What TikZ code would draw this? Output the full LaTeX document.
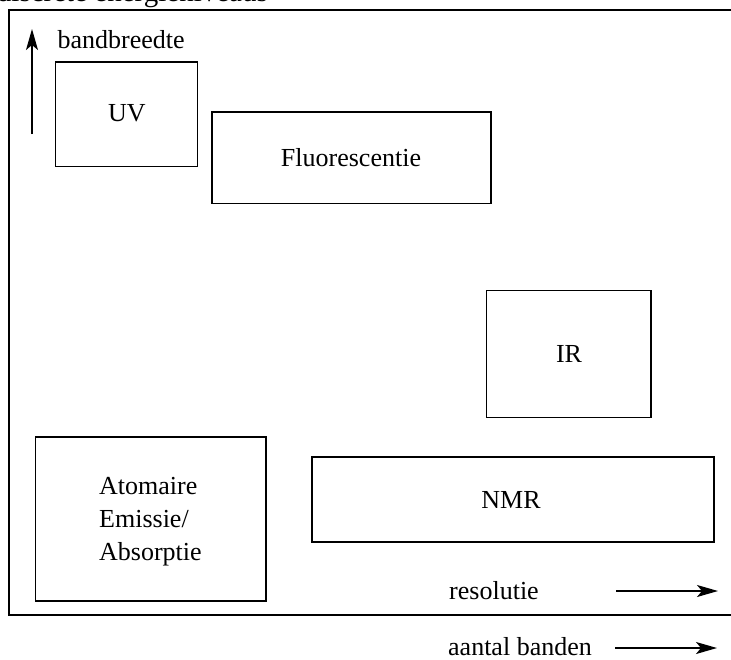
\documentclass[tikz,border=0pt]{standalone}
\usepackage{fontspec}
\setmainfont{Liberation Serif}
\usetikzlibrary{arrows.meta}
\begin{document}
\begin{tikzpicture}[x=1pt,y=-1pt,
  every node/.style={font=\fontsize{26}{33}\selectfont, inner sep=0pt},
  method/.style={draw, line width=1.4pt},
  frame/.style={draw, line width=1.5pt},
  axis/.style={line width=1.4pt, -{Stealth[length=21pt,width=12pt,inset=5pt]}}]
\useasboundingbox (0,0) rectangle (731,659);

% partially visible heading above the frame
\node[anchor=base east, font=\fontsize{29}{35}\selectfont] (head) at (268,1) {discrete energieniveaus};

% outer frame
\draw[frame] (9,10) rectangle (733,615);

% method boxes
\draw[method] (55.5,62) rectangle (197.5,166.5);
\node (uv) at (127,113) {UV};
\draw[method] (212,112) rectangle (491,203.5);
\node (fl) at (351,158) {Fluorescentie};
\draw[method] (486.5,290.5) rectangle (651,417.5);
\node (ir) at (569,354) {IR};
\draw[method] (35.5,437) rectangle (266,601);
\node[align=left, anchor=north west] (aa) at (99,477) {Atomaire\\Emissie/\\Absorptie};
\draw[method] (312,457) rectangle (714,542);
\node (nmr) at (511,500) {NMR};

% axis labels and arrows
\node[anchor=west] (bb) at (57.5,40) {bandbreedte};
\coordinate (bb0) at (32,134);
\coordinate (bb1) at (32,29);
\draw[axis] (bb0) -- (bb1);

\node (res) at (494,591) {resolutie};
\coordinate (r0) at (616,591);
\coordinate (r1) at (718,591);
\draw[axis] (r0) -- (r1);

\node (ab) at (520,647) {aantal banden};
\coordinate (a0) at (615,648);
\coordinate (a1) at (717,648);
\draw[axis] (a0) -- (a1);
\end{tikzpicture}
\end{document}
